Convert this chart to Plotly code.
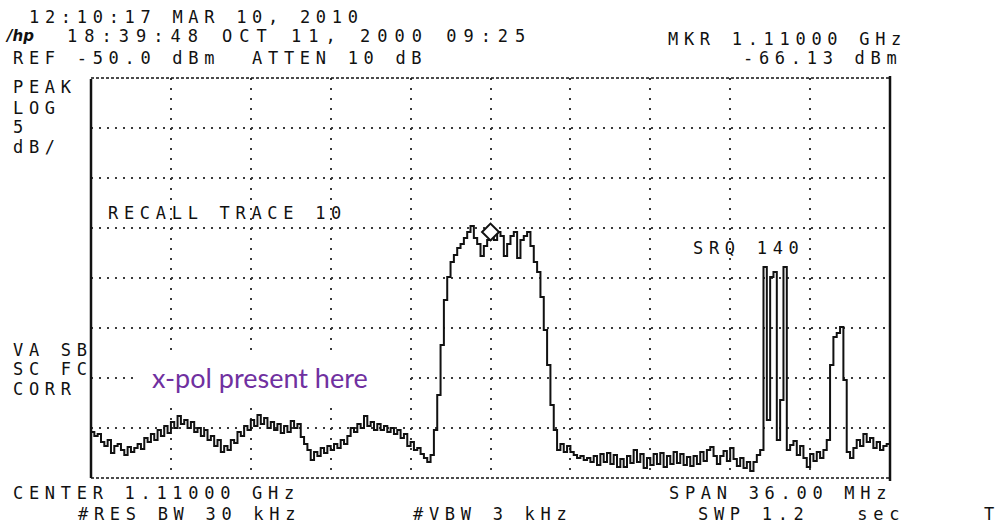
import numpy as np
import plotly.graph_objects as go

# ---------------- data ----------------
start_mhz = 1092.0          # CENTER 1.11000 GHz, SPAN 36 MHz
stop_mhz = 1128.0
ref_dbm = -50.0
bottom_dbm = -90.0          # 8 div x 5 dB

level_dbm = [
    -85.4, -85.8, -85.6, -86.4, -86.8, -86.2, -87.5, -86.8, -86.6, -87.2,
    -87.7, -86.9, -87.4, -87.0, -86.6, -87.1, -86.0, -86.4, -85.6, -86.2,
    -85.2, -85.8, -84.8, -85.5, -84.4, -85.0, -83.8, -84.6, -84.2, -85.0,
    -84.4, -85.4, -85.0, -85.8, -85.2, -86.2, -85.8, -86.8, -86.2, -87.4,
    -86.8, -87.2, -86.2, -86.5, -85.4, -85.8, -84.8, -85.2, -84.2, -84.8,
    -83.7, -84.6, -84.0, -85.0, -84.4, -85.2, -84.6, -85.5, -84.8, -85.4,
    -84.3, -85.0, -84.6, -85.9, -86.6, -87.2, -88.2, -87.4, -87.8, -87.0,
    -87.5, -86.8, -87.2, -86.6, -87.0, -86.2, -86.6, -85.8, -85.0, -85.4,
    -84.6, -85.0, -83.8, -84.8, -84.4, -85.2, -84.6, -85.2, -84.8, -85.4,
    -85.0, -85.6, -85.2, -86.0, -85.6, -86.8, -86.4, -87.2, -87.0, -87.6,
    -88.0, -88.4, -87.7, -85.2, -81.7, -76.7, -72.2, -69.9, -68.4, -67.7,
    -67.0, -66.6, -66.0, -65.4, -64.8, -66.0, -66.6, -67.8, -66.8, -66.2,
    -65.8, -66.2, -65.4, -65.8, -67.8, -66.6, -65.8, -65.4, -68.0, -66.2,
    -65.8, -65.4, -66.8, -68.4, -69.4, -71.9, -75.2, -78.7, -82.7, -85.2,
    -87.2, -86.6, -87.4, -86.8, -87.4, -87.7, -88.0, -87.8, -88.2, -88.0,
    -88.4, -87.8, -88.7, -87.6, -88.4, -87.5, -88.6, -87.7, -88.9, -88.1,
    -88.9, -87.8, -88.5, -87.2, -88.4, -87.6, -89.0, -88.0, -88.7, -87.6,
    -88.6, -87.5, -88.9, -87.8, -88.6, -87.4, -88.5, -87.6, -88.7, -87.9,
    -88.8, -87.8, -88.6, -87.4, -88.3, -87.2, -86.9, -87.8, -88.6, -87.8,
    -87.3, -88.3, -87.0, -88.1, -88.8, -88.0, -89.0, -88.4, -89.3, -88.4,
    -87.7, -87.2, -68.9, -84.2, -69.9, -69.4, -86.2, -82.2, -68.9, -87.2,
    -86.7, -86.3, -87.7, -86.8, -88.0, -88.9, -87.6, -88.3, -87.4, -88.0,
    -87.2, -86.2, -78.7, -75.9, -75.5, -74.9, -80.2, -87.4, -88.0, -87.0,
    -86.2, -86.8, -85.6, -86.4, -86.0, -87.0, -86.4, -87.2, -86.8, -86.6,
    -86.5,
]
freq_mhz = np.linspace(start_mhz, stop_mhz, len(level_dbm))

marker_freq = [1110.0]
marker_level = [-65.4]

x_grid = [1095.6, 1099.2, 1102.8, 1106.4, 1110.0, 1113.6, 1117.2, 1120.8, 1124.4]
y_grid = [-55, -60, -65, -70, -75, -80, -85]

# (text, left px, centre px, letter spacing px)
header_lines = [
    ("12:10:17 MAR 10, 2010", 28, 17, 5.7),
    ("18:39:48 OCT 11, 2000 09:25", 66, 36, 7.0),
    ("REF -50.0 dBm  ATTEN 10 dB", 12, 58, 5.7),
    ("MKR 1.11000 GHz", 667, 39, 5.7),
    ("-66.13 dBm", 742, 58, 5.7),
    ("PEAK", 12, 87, 5.7),
    ("LOG", 12, 108, 5.7),
    ("5", 12, 127, 5.7),
    ("dB/", 12, 147, 5.7),
    ("VA SB", 12, 350, 5.7),
    ("SC FC", 12, 369, 5.7),
    ("CORR", 12, 389, 5.7),
    ("RECALL TRACE 10", 107, 213, 5.7),
    ("SRQ 140", 692, 248, 5.7),
    ("CENTER 1.11000 GHz", 12, 493, 5.7),
    ("SPAN 36.00 MHz", 668, 493, 5.7),
    ("#RES BW 30 kHz", 77, 514, 5.7),
    ("#VBW 3 kHz", 412, 514, 5.7),
    ("SWP 1.2   sec", 697, 514, 5.7),
    ("T", 983, 514, 5.7),
]
note_text = "x-pol present here"

# ---------------- layout geometry ----------------
W, H = 1000, 523
L, R, T, B = 91, 110, 78, 45
PW, PH = W - L - R, H - T - B


def px(x):
    return (x - L) / PW


def py(y):
    return (T + PH - y) / PH


ink = "#111111"
grid_col = "#3a3a3a"

fig = go.Figure()
fig.add_trace(go.Scatter(
    x=freq_mhz, y=level_dbm, mode="lines",
    line=dict(color=ink, width=2, shape="hv"),
    hoverinfo="skip", showlegend=False,
))
fig.add_trace(go.Scatter(
    x=marker_freq, y=marker_level, mode="markers",
    marker=dict(symbol="diamond", size=13, color="white",
                line=dict(color=ink, width=2)),
    hoverinfo="skip", showlegend=False,
))

annotations = []
mono = dict(family="DejaVu Sans Mono", size=17, color=ink)
spacing_map = {}
for txt, x0, yc, ls in header_lines:
    spacing_map[txt] = ls
    annotations.append(dict(
        text=txt, x=px(x0), y=py(yc), xref="paper", yref="paper",
        xanchor="left", yanchor="middle", align="left",
        showarrow=False, font=mono, borderpad=0,
    ))
# hp logo
annotations.append(dict(
    text="<i><b>/hp</b></i>", x=px(4), y=py(36), xref="paper", yref="paper",
    xanchor="left", yanchor="middle", align="left", showarrow=False,
    font=dict(family="DejaVu Sans", size=15, color=ink), borderpad=0,
))
annotations.append(dict(
    text=note_text, x=px(151), y=py(377), xref="paper", yref="paper",
    xanchor="left", yanchor="middle", align="left", showarrow=False,
    font=dict(family="Lato", size=27, color="#7030A0"), borderpad=0,
))

shapes = [
    # white patch behind the note (hides grid dots)
    dict(type="rect", xref="paper", yref="paper",
         x0=px(135), x1=px(405), y0=py(401), y1=py(353),
         fillcolor="white", line=dict(width=0), layer="above"),
    # top and bottom dashed borders
    dict(type="line", xref="paper", yref="paper", x0=0, x1=1, y0=1, y1=1,
         line=dict(color=ink, width=1.5, dash="3px,2px")),
    dict(type="line", xref="paper", yref="paper", x0=0, x1=1, y0=0, y1=0,
         line=dict(color=ink, width=1.5, dash="3px,2px")),
    # left / right solid borders
    dict(type="line", xref="paper", yref="paper", x0=0, x1=0,
         y0=py(478), y1=py(79), line=dict(color=ink, width=2.5)),
    dict(type="line", xref="paper", yref="paper", x0=1, x1=1,
         y0=py(481), y1=py(76), line=dict(color=ink, width=2.5)),
]

fig.update_layout(
    width=W, height=H, autosize=False,
    margin=dict(l=L, r=R, t=T, b=B, pad=0),
    paper_bgcolor="white", plot_bgcolor="white",
    showlegend=False,
    annotations=annotations, shapes=shapes,
    xaxis=dict(range=[start_mhz, stop_mhz], tickvals=x_grid, showticklabels=False,
               ticks="", showgrid=True, gridcolor=grid_col, gridwidth=2,
               griddash="2px,8px", zeroline=False, showline=False, fixedrange=True),
    yaxis=dict(range=[bottom_dbm, ref_dbm], tickvals=y_grid, showticklabels=False,
               ticks="", showgrid=True, gridcolor=grid_col, gridwidth=2,
               griddash="2px,6px", zeroline=False, showline=False, fixedrange=True),
)

import json
post = """
document.body.style.margin = '0';
document.body.style.padding = '0';
var gd = document.getElementById('{plot_id}');
var spacing = %s;
function spaceOut(){
  gd.querySelectorAll('text.annotation-text').forEach(function(t){
    var s = t.textContent;
    if (spacing.hasOwnProperty(s)) {
      t.style.letterSpacing = spacing[s] + 'px';
    }
  });
}
spaceOut();
gd.on('plotly_afterplot', spaceOut);
""" % json.dumps(spacing_map)

fig.write_html("out.html", post_script=post, config={"staticPlot": True})
